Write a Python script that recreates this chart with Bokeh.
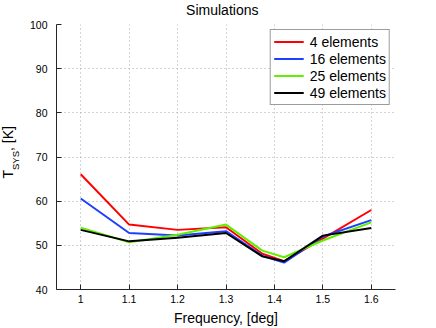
from bokeh.plotting import figure
from bokeh.layouts import row, column
from bokeh.models import Range1d, FixedTicker, Legend, LegendItem
from bokeh.core.properties import value
from bokeh.embed import file_html
from bokeh.resources import INLINE
from math import pi

# ---- data ----
freq = [1.0, 1.1, 1.2, 1.3, 1.375, 1.42, 1.5, 1.6]
t4 = [66.1, 54.7, 53.5, 54.1, 48.1, 46.4, 51.5, 58.0]
t16 = [60.6, 52.8, 52.2, 53.2, 47.6, 46.1, 52.0, 55.7]
t25 = [54.0, 50.7, 52.4, 54.7, 48.8, 47.3, 51.1, 55.2]
t49 = [53.5, 50.9, 51.7, 52.8, 47.5, 46.4, 52.2, 53.9]
series_names = ["4 elements", "16 elements", "25 elements", "49 elements"]
series_colors = ["#ff0000", "#1f3fff", "#5ef000", "#000000"]
x_ticks = [1.0, 1.1, 1.2, 1.3, 1.4, 1.5, 1.6]
x_tick_labels = ["1", "1.1", "1.2", "1.3", "1.4", "1.5", "1.6"]
y_ticks = [40, 50, 60, 70, 80, 90, 100]
y_label_parts = ["T", "SYS", ", [K]"]
title_text = "Simulations"

FONT = "Liberation Sans"
W, H = 436, 328
LW = 24   # left strip holding the y-axis label
TH = 18   # top strip holding the title

p = figure(width=W - LW, height=H - TH, output_backend="svg", toolbar_location=None,
           x_range=Range1d(0.95, 1.65), y_range=Range1d(40, 100),
           min_border_left=56 - LW, min_border_right=41, min_border_top=24 - TH,
           min_border_bottom=37)
p.outline_line_color = None
p.background_fill_color = "white"
p.border_fill_color = "white"

# axes
for ax in (p.xaxis[0], p.yaxis[0]):
    ax.axis_line_color = "#262626"
    ax.major_tick_line_color = "#262626"
    ax.major_tick_in = 5
    ax.major_tick_out = 0
    ax.minor_tick_line_color = None
    ax.major_label_text_font = FONT
    ax.major_label_text_font_size = "10.5px"
    ax.major_label_text_color = "#000000"

p.xaxis.ticker = FixedTicker(ticks=x_ticks)
p.xaxis.major_label_overrides = {t: l for t, l in zip(x_ticks, x_tick_labels)}
p.xaxis.major_label_standoff = 5
p.xaxis.axis_label = "Frequency, [deg]"
p.xaxis.axis_label_text_font = FONT
p.xaxis.axis_label_text_font_size = "14px"
p.xaxis.axis_label_text_font_style = "normal"
p.xaxis.axis_label_text_color = "#000000"
p.xaxis.axis_label_standoff = 4

p.yaxis.ticker = FixedTicker(ticks=y_ticks)
p.yaxis.major_label_standoff = 9

# grid
for g in (p.xgrid[0], p.ygrid[0]):
    g.grid_line_color = "#a8a8a8"
    g.grid_line_dash = "1 3"
    g.grid_line_width = 1
p.xgrid.ticker = FixedTicker(ticks=x_ticks)
p.ygrid.ticker = FixedTicker(ticks=y_ticks)

# lines
items = []
for name, ys, col in zip(series_names, [t4, t16, t25, t49], series_colors):
    r = p.line(freq, ys, line_color=col, line_width=2)
    items.append(LegendItem(label=name, renderers=[r]))

legend = Legend(items=items, location="top_right")
legend.margin = 5
legend.padding = 3
legend.spacing = 0
legend.label_height = 17
legend.glyph_height = 17
legend.glyph_width = 30
legend.label_standoff = 6
legend.label_text_font = FONT
legend.label_text_font_size = "14px"
legend.label_text_color = "#000000"
legend.border_line_color = "#3a3a3a"
legend.border_line_width = 1
legend.background_fill_color = "white"
legend.background_fill_alpha = 1
p.add_layout(legend)


def strip(w, h):
    f = figure(width=w, height=h, output_backend="svg", toolbar_location=None,
               x_range=Range1d(0, w), y_range=Range1d(0, h),
               x_axis_type=None, y_axis_type=None, min_border=0)
    f.outline_line_color = None
    f.xgrid.visible = False
    f.ygrid.visible = False
    f.border_fill_color = "white"
    f.background_fill_color = "white"
    return f


# title strip (centred over the plot frame)
top = strip(W - LW, TH)
top.text(x=[(56 + 395) / 2 - LW], y=[TH - 9], text=[title_text],
         text_align="center", text_baseline="middle",
         text_font=value(FONT), text_font_size="14px", text_color="#000000")

# y-axis label strip: T_SYS, [K]
lab = strip(LW, H)
common = dict(angle=pi / 2, text_align="left", text_baseline="middle",
              text_font=value(FONT), text_color="#000000")
lab.text(x=[7], y=[H - 178], text=[y_label_parts[0]], text_font_size="14px", **common)
lab.text(x=[15], y=[H - 169.5], text=[y_label_parts[1]], text_font_size="9.5px", **common)
lab.text(x=[7], y=[H - 150.5], text=[y_label_parts[2]], text_font_size="14px", **common)

layout = row(lab, column(top, p, spacing=0), spacing=0)
open("out.html", "w").write(file_html(layout, INLINE))
